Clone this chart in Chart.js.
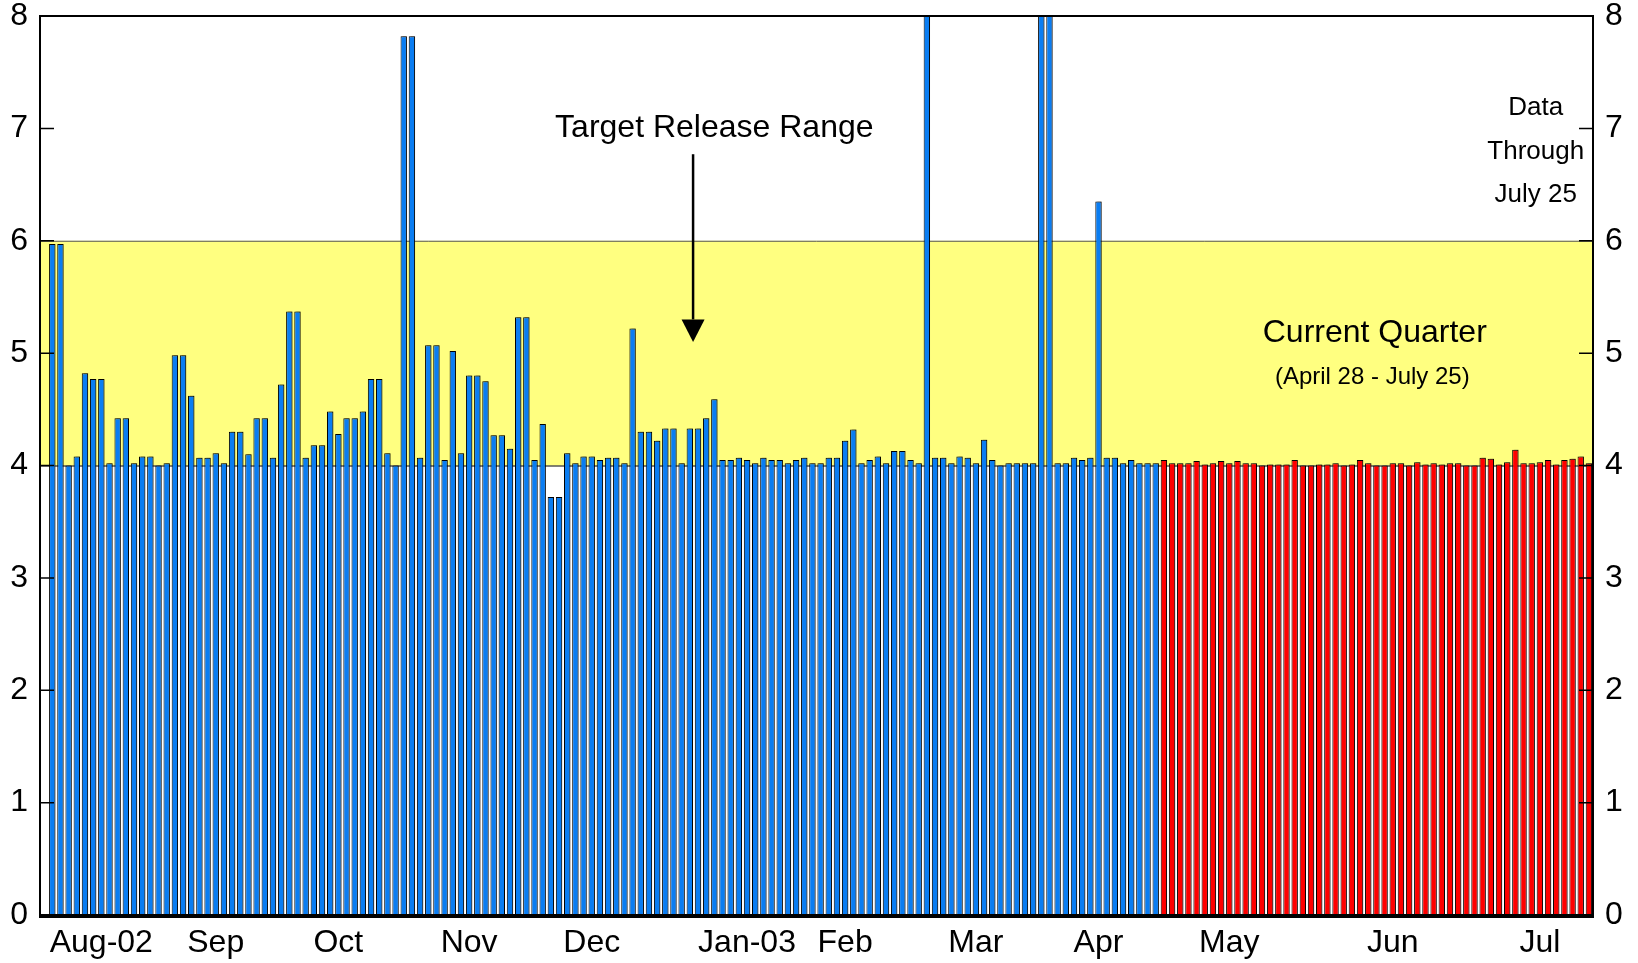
<!DOCTYPE html>
<html lang="en">
<head>
  <meta charset="UTF-8"/>
  <title>Target Release Range</title>
  <script src="https://cdn.jsdelivr.net/npm/chart.js@4.4.1/dist/chart.umd.min.js"></script>
  <style>
    html, body { margin: 0; padding: 0; background: #fff; }
    #wrap { width: 1638px; height: 963px; }
  </style>
</head>
<body>
  <div id="wrap"><canvas id="releaseChart" width="1638" height="963"></canvas></div>
  <script>
    // daily values, first bar = late July 2002, last bar = July 25 2003
    const releases = [
      5.97, 5.97, 4.00, 4.08, 4.82, 4.77, 4.77, 4.02, 4.42, 4.42,
      4.02, 4.08, 4.08, 4.00, 4.02, 4.98, 4.98, 4.62, 4.07, 4.07,
      4.11, 4.02, 4.30, 4.30, 4.10, 4.42, 4.42, 4.07, 4.72, 5.37,
      5.37, 4.07, 4.18, 4.18, 4.48, 4.28, 4.42, 4.42, 4.48, 4.77,
      4.77, 4.11, 4.00, 7.82, 7.82, 4.07, 5.07, 5.07, 4.05, 5.02,
      4.11, 4.80, 4.80, 4.75, 4.27, 4.27, 4.15, 5.32, 5.32, 4.05,
      4.37, 3.72, 3.72, 4.11, 4.02, 4.08, 4.08, 4.05, 4.07, 4.07,
      4.02, 5.22, 4.30, 4.30, 4.22, 4.33, 4.33, 4.02, 4.33, 4.33,
      4.42, 4.59, 4.05, 4.05, 4.07, 4.05, 4.02, 4.07, 4.05, 4.05,
      4.02, 4.05, 4.07, 4.02, 4.02, 4.07, 4.07, 4.22, 4.32, 4.02,
      4.05, 4.08, 4.02, 4.13, 4.13, 4.05, 4.02, 8.50, 4.07, 4.07,
      4.02, 4.08, 4.07, 4.02, 4.23, 4.05, 4.00, 4.02, 4.02, 4.02,
      4.02, 8.50, 8.50, 4.02, 4.02, 4.07, 4.05, 4.07, 6.35, 4.07,
      4.07, 4.02, 4.05, 4.02, 4.02, 4.02,
      // current quarter (April 28 - July 25)
      4.05, 4.02, 4.02, 4.02, 4.04, 4.01, 4.02, 4.04, 4.02, 4.04,
      4.02, 4.02, 4.00, 4.01, 4.01, 4.01, 4.05, 4.00, 4.00, 4.01,
      4.01, 4.02, 4.00, 4.01, 4.05, 4.02, 4.00, 4.00, 4.02, 4.02,
      4.00, 4.03, 4.01, 4.02, 4.01, 4.02, 4.02, 4.00, 4.00, 4.07,
      4.06, 4.01, 4.03, 4.14, 4.02, 4.02, 4.03, 4.05, 4.01, 4.05,
      4.06, 4.08, 4.02
    ];
    const quarterStart = 136;   // first red bar
    const monthNames = ['Aug-02', 'Sep', 'Oct', 'Nov', 'Dec', 'Jan-03', 'Feb', 'Mar', 'Apr', 'May', 'Jun', 'Jul'];
    const monthSlots = [7, 21, 36, 52, 67, 86, 98, 114, 129, 145, 165, 183];
    const yMin = 0, yMax = 8;
    const bandLow = 4, bandHigh = 6;

    const FONT = '"Liberation Sans", Arial, Helvetica, sans-serif';
    const BLUE = '#0a7df2';
    const RED = '#ff0000';

    // one empty slot in front of the first bar
    const labels = Array.from({ length: releases.length + 1 }, (_, i) => {
      const k = monthSlots.indexOf(i);
      return k >= 0 ? monthNames[k] : '';
    });

    const bandPlugin = {
      id: 'band',
      beforeDatasetsDraw(chart) {
        const { ctx, chartArea: a, scales: { y } } = chart;
        const y4 = y.getPixelForValue(bandLow), y6 = y.getPixelForValue(bandHigh);
        ctx.save();
        ctx.fillStyle = '#ffff80';
        ctx.fillRect(a.left, y6, a.right - a.left, y4 - y6);
        ctx.lineWidth = 1;
        ctx.strokeStyle = '#555';
        ctx.beginPath(); ctx.moveTo(a.left, y6 + 0.5); ctx.lineTo(a.right, y6 + 0.5); ctx.stroke();
        ctx.strokeStyle = '#000';
        ctx.beginPath(); ctx.moveTo(a.left, y4 + 0.5); ctx.lineTo(a.right, y4 + 0.5); ctx.stroke();
        ctx.restore();
      }
    };

    const shadowPlugin = {
      id: 'barShadow',
      beforeDatasetDraw(chart) {
        const ctx = chart.ctx;
        ctx.save();
        ctx.shadowColor = 'rgba(0,0,0,0.28)';
        ctx.shadowOffsetX = 2;
        ctx.shadowOffsetY = -1;
        ctx.shadowBlur = 0;
      },
      afterDatasetDraw(chart) {
        chart.ctx.restore();
      }
    };

    const framePlugin = {
      id: 'frame',
      afterDatasetsDraw(chart) {
        const { ctx, chartArea: a, scales: { y } } = chart;
        ctx.save();
        ctx.strokeStyle = '#000';
        ctx.lineWidth = 2;
        ctx.beginPath();
        ctx.moveTo(a.left, a.bottom);
        ctx.lineTo(a.left, a.top);
        ctx.lineTo(a.right, a.top);
        ctx.lineTo(a.right, a.bottom);
        ctx.stroke();
        ctx.lineWidth = 4;
        ctx.beginPath(); ctx.moveTo(a.left - 1, a.bottom + 1); ctx.lineTo(a.right + 1, a.bottom + 1); ctx.stroke();
        // inward tick marks on both sides
        ctx.lineWidth = 1.5;
        for (let v = yMin; v <= yMax; v++) {
          const py = y.getPixelForValue(v);
          ctx.beginPath();
          ctx.moveTo(a.left, py); ctx.lineTo(a.left + 14, py);
          ctx.moveTo(a.right - 14, py); ctx.lineTo(a.right, py);
          ctx.stroke();
        }
        ctx.restore();
      }
    };

    const notesPlugin = {
      id: 'notes',
      afterDraw(chart) {
        const { ctx, scales: { x, y } } = chart;
        ctx.save();
        ctx.fillStyle = '#000';
        ctx.textAlign = 'center';
        ctx.textBaseline = 'middle';

        ctx.font = '32px ' + FONT;
        ctx.fillText('Target Release Range', x.getPixelForValue(82), y.getPixelForValue(7.0));

        // arrow
        const ax = x.getPixelForValue(79.4);
        const yTop = y.getPixelForValue(6.77), yHead = y.getPixelForValue(5.30), yTip = y.getPixelForValue(5.10);
        ctx.strokeStyle = '#000';
        ctx.lineWidth = 2.5;
        ctx.beginPath(); ctx.moveTo(ax, yTop); ctx.lineTo(ax, yHead); ctx.stroke();
        ctx.beginPath();
        ctx.moveTo(ax - 11.5, yHead); ctx.lineTo(ax + 11.5, yHead); ctx.lineTo(ax, yTip);
        ctx.closePath(); ctx.fill();

        ctx.font = '32px ' + FONT;
        ctx.fillText('Current Quarter', x.getPixelForValue(162.8), y.getPixelForValue(5.18));
        ctx.font = '24px ' + FONT;
        ctx.fillText('(April 28 - July 25)', x.getPixelForValue(162.5), y.getPixelForValue(4.78));

        ctx.font = '26px ' + FONT;
        const dx = x.getPixelForValue(182.5);
        ctx.fillText('Data', dx, y.getPixelForValue(7.18));
        ctx.fillText('Through', dx, y.getPixelForValue(6.79));
        ctx.fillText('July 25', dx, y.getPixelForValue(6.41));
        ctx.restore();
      }
    };

    const yAxis = (position, width, pad) => ({
      position,
      min: yMin,
      max: yMax,
      grid: { display: false },
      border: { display: false },
      // small lineHeight keeps the end labels from pushing the plot area in
      ticks: { stepSize: 1, padding: pad, color: '#000', font: { family: FONT, size: 32, lineHeight: 0.1 } },
      afterFit(scale) { scale.width = width; }
    });

    new Chart(document.getElementById('releaseChart'), {
      type: 'bar',
      data: {
        labels,
        datasets: [{
          data: [null, ...releases],
          backgroundColor: c => (c.dataIndex - 1 >= quarterStart ? RED : BLUE),
          borderColor: '#000',
          borderWidth: 1,
          barPercentage: 0.78,
          categoryPercentage: 1.0,
          clip: 0,
          yAxisID: 'y'
        }]
      },
      options: {
        responsive: false,
        animation: false,
        layout: { padding: { top: 16, left: 0, right: 0, bottom: 0 } },
        plugins: { legend: { display: false }, tooltip: { enabled: false } },
        scales: {
          x: {
            grid: { display: false },
            border: { display: false },
            ticks: {
              autoSkip: false, maxRotation: 0, minRotation: 0, padding: 1,
              color: '#000', font: { family: FONT, size: 32, lineHeight: 1.2 }
            },
            afterFit(scale) { scale.height = 48; }
          },
          y: yAxis('left', 40, 4),
          y2: yAxis('right', 45, 4)
        }
      },
      plugins: [bandPlugin, shadowPlugin, framePlugin, notesPlugin]
    });
  </script>
</body>
</html>
